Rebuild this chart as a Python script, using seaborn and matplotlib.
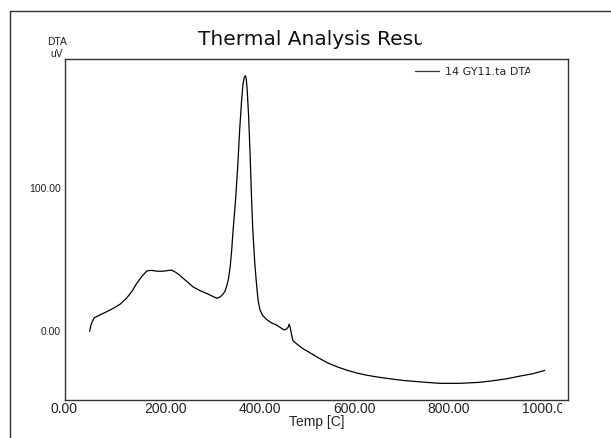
import numpy as np
import seaborn as sns
import matplotlib.pyplot as plt
from matplotlib.lines import Line2D
from matplotlib.transforms import Bbox, ScaledTranslation

# DTA curve
temp = [35, 37, 40, 45, 56, 70, 85, 100, 113, 125, 134, 145, 156, 165, 175,
        184, 195, 208, 218, 226, 240, 254, 268, 283, 295, 305, 312, 318, 322,
        326, 329, 333, 336, 339, 344, 349, 353, 357, 360, 363, 365, 367, 369,
        372, 375, 378, 381, 385, 389, 392, 396, 402, 410, 420, 431, 440, 447,
        452, 456, 458, 460, 463, 466, 475, 487, 505, 523, 540, 558, 580, 601,
        622, 643, 671, 700, 740, 777, 820, 862, 890, 920, 947, 975, 1000]
dta = [0, 3.5, 6.5, 9.5, 11.3, 13.5, 16, 19, 23, 28, 33, 38, 42, 42.5, 42,
       41.8, 42, 42.7, 41, 39, 35, 31, 28.5, 26.4, 24.5, 23, 24, 26, 28,
       32, 36, 45, 56, 70, 90, 115, 140, 160, 172, 177, 178, 176, 168,
       150, 125, 95, 70, 48, 32, 22, 15, 11, 8.3, 6, 4.4, 2.5, 1,
       1.5, 3, 5, 3, -2, -6.5, -9, -12, -15.5, -19, -22, -24.5, -27, -29,
       -30.5, -31.7, -33, -34.2, -35.3, -36.2, -36.2, -35.5, -34.4, -33, -31.2, -29.5, -27.2]

xticks = [0, 200, 400, 600, 800, 1000]
yticks = [0, 100]
title = "Thermal Analysis Result"
series_name = "14 GY11.ta DTA"

sns.set_style("white")
plt.rcParams['font.family'] = ['Liberation Sans', 'DejaVu Sans']

W, H = 611, 438
fig = plt.figure(figsize=(W / 100, H / 100), dpi=100)
ax = fig.add_axes([64.7 / W, 1 - 399.7 / H, (568.3 - 64.7) / W, (399.7 - 59.3) / H])

sns.lineplot(x=temp, y=dta, sort=False, color='black', lw=0.9, ax=ax,
             label=series_name, legend=False)

ax.set_xlim(-18, 1050)
ax.set_ylim(-47.6, 189.4)
ax.set_xticks(xticks)
ax.set_xticklabels([f"{v:.2f}" for v in xticks], fontsize=10)
ax.set_xticks(np.arange(0, 1050, 50), minor=True)
ax.set_yticks(yticks)
ax.set_yticklabels([f"{v:.2f}" for v in yticks], fontsize=7.5)
ax.set_yticks(np.arange(-40, 190, 20), minor=True)
ax.tick_params(axis='x', which='major', direction='in', length=4, width=0.8, pad=2, colors='#222222')
ax.tick_params(axis='x', which='minor', direction='in', length=2, width=0.8)
ax.tick_params(axis='y', which='major', direction='out', length=2, width=0.8, pad=0.5, colors='#222222')
ax.tick_params(axis='y', which='minor', direction='in', length=2.5, width=0.8)
for s in ax.spines.values():
    s.set_color('#333333')
    s.set_linewidth(1.0)
ax.set_xlabel("Temp [C]", fontsize=10, labelpad=-1, color='#222222')
ax.set_ylabel("")

# x tick labels start a little left of their tick, as in the original
shift = ScaledTranslation(-23 / 100, 0, fig.dpi_scale_trans)
for lbl in ax.get_xticklabels():
    lbl.set_horizontalalignment('left')
    lbl.set_transform(lbl.get_transform() + shift)

ax.legend(handles=[Line2D([], [], color='#333333', lw=0.9)], labels=[series_name],
          loc='upper left', bbox_to_anchor=(415 / W, 1 - 67 / H),
          bbox_transform=fig.transFigure, frameon=False,
          prop={'family': 'DejaVu Sans', 'size': 8},
          handlelength=2.2, handletextpad=0.5, borderpad=0, borderaxespad=0)

def clip_right(txt, x_px):
    txt.set_clip_box(Bbox([[0, 0], [x_px, H]]))
    txt.set_clip_on(True)

t = fig.text(198 / W, 1 - 45 / H, title, ha='left', va='baseline', fontsize=14.5,
             family='DejaVu Sans', color='#111111')
clip_right(t, 422)
d = fig.text(47 / W, 1 - 45 / H, "DTA", ha='left', va='baseline', fontsize=7.5, color='#222222')
clip_right(d, 67)
fig.text(50 / W, 1 - 57 / H, "uV", ha='left', va='baseline', fontsize=7.5, color='#222222')

fig.canvas.draw()
for lt in ax.get_legend().get_texts():
    clip_right(lt, 530)
clip_x = {200: 186, 400: 280, 1000: 562}
for v, lbl in zip(xticks, ax.get_xticklabels()):
    if v in clip_x:
        clip_right(lbl, clip_x[v])

# outer frame (runs off the right and bottom edges)
fig.add_artist(Line2D([10 / W, 10 / W], [0, 1 - 11 / H], color='#333333', lw=1.0))
fig.add_artist(Line2D([10 / W, 1], [1 - 11 / H, 1 - 11 / H], color='#333333', lw=1.0))

fig.savefig("out.png", dpi=100)
